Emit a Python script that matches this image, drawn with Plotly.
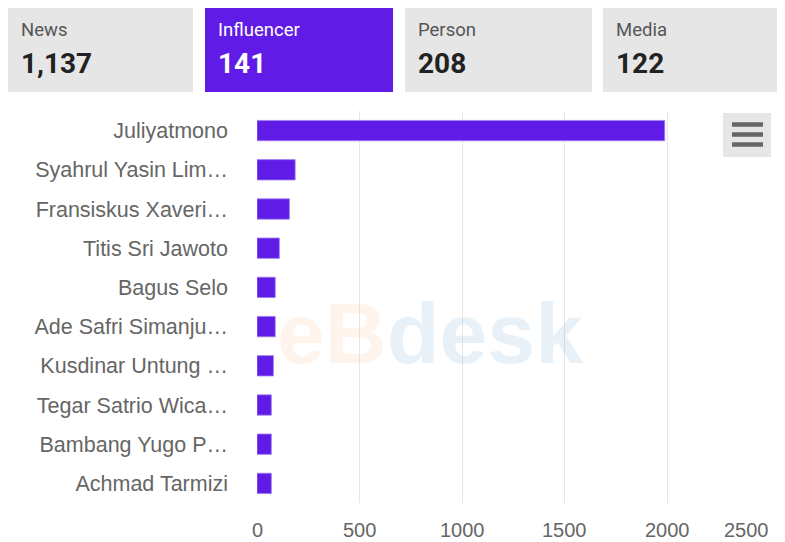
import plotly.graph_objects as go

# ---- data ----
names = ["Juliyatmono", "Syahrul Yasin Lim…", "Fransiskus Xaveri…", "Titis Sri Jawoto",
         "Bagus Selo", "Ade Safri Simanju…", "Kusdinar Untung …", "Tegar Satrio Wica…",
         "Bambang Yugo P…", "Achmad Tarmizi"]
values = [1987, 186, 158, 109, 89, 89, 80, 70, 70, 70]
x_ticks = [0, 500, 1000, 1500, 2000, 2500]

tab_labels = ["News", "Influencer", "Person", "Media"]
tab_counts = [1137, 141, 208, 122]
active_tab = 1

# ---- layout geometry (page pixels; the page body adds an 8px offset) ----
OX, OY = 8, 8
PAGE_W, PAGE_H = 785, 542
FW, FH = PAGE_W - OX, PAGE_H - OY
PL, PR, PT, PB = 257, 770, 111, 503          # plot area in page pixels
ML, MR, MT, MB = PL - OX, PAGE_W - PR, PT - OY, PAGE_H - PB
PW, PH = FW - ML - MR, FH - MT - MB

def xp(px):
    return (px - PL) / PW

def yp(py):
    return (PB - py) / PH

PURPLE = "#601ce6"
GRAY_BOX = "#e6e6e6"

fig = go.Figure(go.Bar(
    x=values, y=names, orientation="h",
    marker=dict(color=PURPLE, line=dict(color="rgba(160,130,245,0.8)", width=1)),
    width=0.52, hoverinfo="x+y",
))

shapes = []
annotations = []

# tabs
tab_x0 = [8, 205, 405, 603]
tab_x1 = [193, 393, 592, 790]
for i, (lab, cnt) in enumerate(zip(tab_labels, tab_counts)):
    active = i == active_tab
    shapes.append(dict(type="rect", xref="paper", yref="paper",
                       x0=xp(tab_x0[i]), x1=xp(tab_x1[i]), y0=yp(92), y1=yp(8),
                       fillcolor=PURPLE if active else GRAY_BOX, line=dict(width=0),
                       layer="below"))
    annotations.append(dict(xref="paper", yref="paper", x=xp(tab_x0[i] + 11), y=yp(30),
                            xanchor="left", yanchor="middle", showarrow=False,
                            text=lab, font=dict(family="Roboto", size=18.5,
                                                color="#ffffff" if active else "#555555")))
    annotations.append(dict(xref="paper", yref="paper", x=xp(tab_x0[i] + 11), y=yp(64),
                            xanchor="left", yanchor="middle", showarrow=False,
                            text=f"<b>{cnt:,}</b>", font=dict(family="Roboto", size=28,
                                                color="#ffffff" if active else "#222222")))

# x tick labels
for v in x_ticks:
    annotations.append(dict(xref="x", yref="paper", x=v, y=yp(530),
                            xanchor="right" if v == x_ticks[-1] else "center",
                            yanchor="middle", showarrow=False, text=str(v), borderpad=0,
                            font=dict(family="Liberation Sans", size=20, color="#666666")))

# watermark
annotations.append(dict(xref="paper", yref="paper", x=xp(430), y=yp(333),
                        xanchor="center", yanchor="middle", showarrow=False,
                        text="<b><span style='color:rgba(250,200,160,0.2)'>eB</span>"
                             "<span style='color:rgba(150,190,225,0.22)'>desk</span></b>",
                        font=dict(family="Liberation Sans", size=86)))

# hamburger menu
shapes.append(dict(type="rect", xref="paper", yref="paper",
                   x0=xp(723), x1=xp(771), y0=yp(157), y1=yp(113),
                   fillcolor=GRAY_BOX, line=dict(width=0)))
for ly in [124.5, 134.5, 144.5]:
    shapes.append(dict(type="line", xref="paper", yref="paper",
                       x0=xp(732), x1=xp(763), y0=yp(ly), y1=yp(ly),
                       line=dict(color="#666666", width=4.5)))

fig.update_layout(
    width=FW, height=FH,
    margin=dict(l=ML, r=MR, t=MT, b=MB, autoexpand=False),
    paper_bgcolor="white", plot_bgcolor="white",
    showlegend=False,
    bargap=0.48,
    shapes=shapes, annotations=annotations,
    xaxis=dict(range=[0, 2500], tickvals=x_ticks, showticklabels=False,
               showgrid=True, gridcolor="#e6e6e6", gridwidth=1, zeroline=False,
               showline=False, fixedrange=True),
    yaxis=dict(autorange="reversed", showgrid=False, zeroline=False, showline=False,
               ticks="", ticklabelstandoff=28,
               tickfont=dict(family="Liberation Sans", size=21.5, color="#666666"),
               fixedrange=True),
)

fig.write_html("out.html", config={"displayModeBar": False})
